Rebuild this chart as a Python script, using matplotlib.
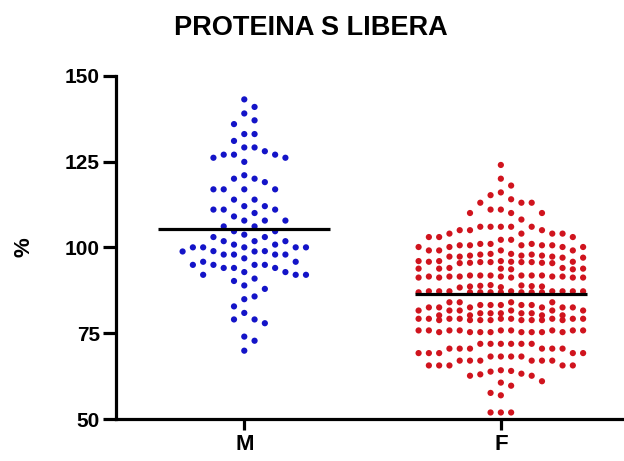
import numpy as np
import matplotlib
matplotlib.use("Agg")
import matplotlib.pyplot as plt

plt.rcParams["font.family"] = ["Liberation Sans", "DejaVu Sans"]
plt.rcParams["font.weight"] = "bold"

# ---------------------------------------------------------------------------
# Data: free protein S (%) by sex
# ---------------------------------------------------------------------------
groups = ["M", "F"]
colors = ["#1414C8", "#D0141E"]

m_values = [
    143.1, 140.9, 139.0, 137.0, 135.9, 133.0, 133.0, 131.0, 129.1, 129.1,
    128.0, 127.0, 127.0, 127.0, 126.1, 126.1, 124.9, 121.0, 120.0, 120.0,
    119.0, 116.9, 116.9, 116.9, 116.9, 113.9, 113.9, 112.0, 112.0, 111.0,
    111.0, 111.0, 110.0, 109.0, 107.8, 107.8, 107.8, 106.1, 106.1, 104.7,
    104.7, 103.7, 103.0, 103.0, 101.8, 101.8, 101.8, 100.8, 100.8, 100.0,
    100.0, 100.0, 100.0, 100.0, 98.9, 98.9, 98.8, 98.8, 97.9, 97.9,
    97.9, 97.9, 96.8, 95.8, 95.8, 94.9, 94.9, 94.9, 94.9, 94.0,
    94.0, 94.0, 92.8, 92.8, 92.0, 92.0, 92.0, 90.9, 90.2, 88.9,
    87.9, 85.7, 84.9, 82.8, 80.9, 79.0, 79.0, 77.9, 74.0, 72.8,
    69.9,
]

f_values = [
    124.0, 120.0, 118.0, 116.0, 115.2,
    114.0, 113.0, 113.0, 113.0,
    111.0, 111.0, 110.0, 110.0, 110.0, 108.1,
    106.0, 106.0, 106.0, 106.0, 106.0, 105.0, 105.0, 105.0,
    104.0, 104.0, 104.0, 104.0, 103.0, 103.0, 103.0,
    102.2, 102.2, 101.0, 101.0, 101.0, 100.6, 100.6, 100.6, 100.6, 100.6,
    100.1, 100.1, 100.1, 100.1, 99.1, 99.1, 99.1, 99.1, 98.1, 98.1,
    97.9, 97.9, 97.6, 97.6, 97.3, 97.3, 97.0, 97.0, 97.6, 97.3,
    96.0, 96.0, 95.8, 95.8, 95.7, 95.7, 95.5, 95.5, 95.7, 95.7,
    95.4, 95.4, 96.0, 95.8,
    94.0, 94.0, 93.8, 93.8, 93.6, 93.6, 93.8, 93.8,
    91.8, 91.8, 91.8, 91.8, 91.8, 91.8, 91.5, 91.5, 91.5, 91.5,
    91.5, 91.5, 91.2, 91.2, 91.2, 91.2, 91.2,
    89.0, 88.8, 88.6, 88.4, 88.6, 88.9, 88.3, 88.7,
    87.2, 87.2, 87.2, 87.2, 87.2, 87.2, 87.2, 87.2,
    86.9, 86.9, 86.9, 86.9, 86.9, 86.9, 86.9, 86.9,
    84.0, 84.0, 84.0, 84.0, 83.2, 83.2, 83.2, 83.2, 83.2,
    82.5, 82.5, 82.5, 82.5, 82.5, 82.5, 81.6, 81.6, 81.6, 81.6,
    81.6, 81.6, 80.8, 80.8, 80.8, 80.8, 80.8, 80.2, 80.2, 80.2, 80.2,
    79.2, 79.2, 79.2, 79.2, 79.2, 79.2, 79.2, 79.2, 79.2,
    78.8, 78.8, 78.8, 78.8, 78.8, 78.8, 78.8, 78.8,
    75.8, 75.8, 75.8, 75.8, 75.8, 75.8, 75.8, 75.8, 75.8,
    75.3, 75.3, 75.3, 75.3, 75.3, 75.3, 75.3, 75.3,
    71.9, 71.9, 71.9, 71.9, 71.9, 71.9, 70.5, 70.5, 70.5, 70.5,
    70.5, 70.5, 69.2, 69.2, 69.2, 69.2, 69.2,
    68.2, 68.2, 68.2, 68.2, 67.0, 67.0, 67.0, 67.0, 67.0, 67.0,
    65.6, 65.6, 65.6, 65.6, 65.6,
    64.2, 63.8, 63.2, 62.6, 62.6, 64.0, 63.0,
    61.0, 60.6, 59.7,
    57.6, 56.9,
    51.9, 51.9, 51.9,
]

y_ticks = [50, 75, 100, 125, 150]


def swarm_slots(values, px_per_unit, max_slot, min_gap_px):
    """Column-slot beeswarm: each point takes the nearest free column,
    crowded points fall back to the column with the most room."""
    values = np.asarray(values, dtype=float)
    candidates = [0]
    for k in range(1, max_slot + 1):
        candidates += [k, -k]
    placed = {s: [] for s in candidates}
    slots = np.zeros(len(values))
    for i in np.argsort(-values, kind="stable"):
        y = values[i] * px_per_unit
        chosen = None
        for s in candidates:
            if all(abs(y - yy) >= min_gap_px for yy in placed[s]):
                chosen = s
                break
        if chosen is None:
            chosen = max(candidates,
                         key=lambda s: min(abs(y - yy) for yy in placed[s]))
        placed[chosen].append(y)
        slots[i] = chosen
    return slots


fig = plt.figure(figsize=(6.24, 4.61), dpi=100)
ax = fig.add_axes([116 / 624, 42 / 461, 508 / 624, 343.3 / 461])

ax.set_xlim(-0.5, 1.48)
ax.set_ylim(50, 150)

px_per_unit = 343.3 / 100.0
slot_width = 10.3 / 257.0

for i, (vals, color, width) in enumerate(zip([m_values, f_values], colors, [6, 8])):
    slots = swarm_slots(vals, px_per_unit, width, 11.0)
    ax.scatter(i + slots * slot_width, vals, s=20, color=color,
               edgecolors="none", zorder=2)
    mean = np.mean(vals)
    ax.plot([i - 0.335, i + 0.335], [mean, mean], color="black",
            lw=2.3, solid_capstyle="butt", zorder=3)

ax.set_xticks([0, 1])
ax.set_xticklabels(groups, fontsize=16, fontweight="bold")
ax.set_yticks(y_ticks)
ax.set_yticklabels([str(t) for t in y_ticks], fontsize=15, fontweight="bold")

for side in ["top", "right"]:
    ax.spines[side].set_visible(False)
for side in ["left", "bottom"]:
    ax.spines[side].set_linewidth(2.3)

ax.tick_params(axis="y", length=9.5, width=2.3, pad=2)
ax.tick_params(axis="x", length=8, width=2.3, pad=3)

ax.set_ylabel("%", fontsize=16, fontweight="bold", labelpad=22)

fig.text(0.4976, 1 - 35 / 461, "PROTEINA S LIBERA", ha="center",
         va="baseline", fontsize=19.5, fontweight="bold")

fig.savefig("out.png", dpi=100)
